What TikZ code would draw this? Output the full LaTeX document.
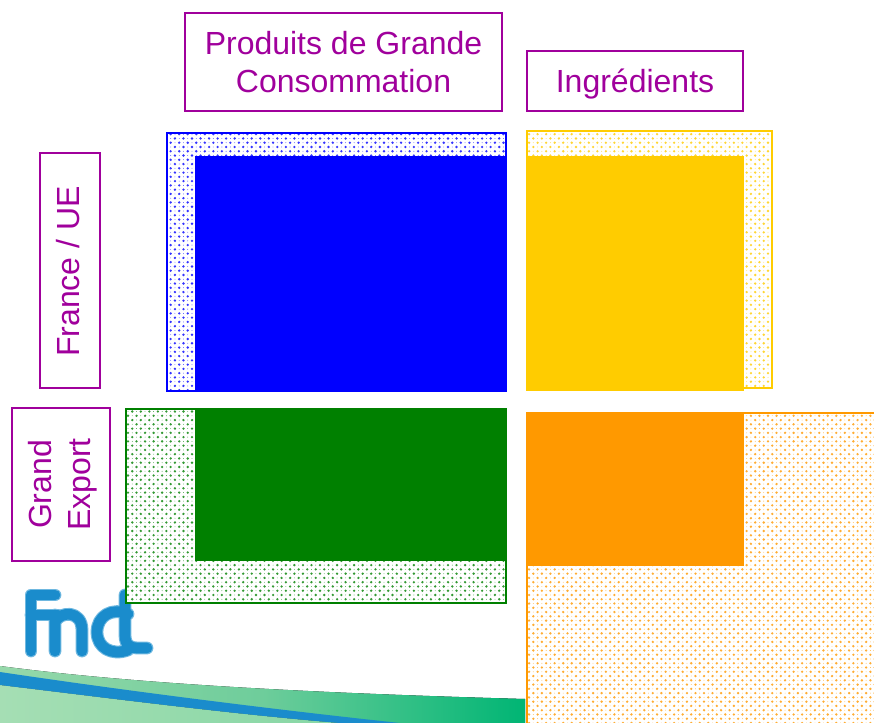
\documentclass[tikz,border=0pt]{standalone}
\usepackage{fontspec}
\setmainfont{Liberation Sans}
\usetikzlibrary{patterns,shadings}
\pgfdeclarepatternformonly{sdots}{\pgfqpoint{-1.2pt}{-1.2pt}}{\pgfqpoint{5.2pt}{5.2pt}}{\pgfqpoint{6.4pt}{6.4pt}}{%
  \pgfpathcircle{\pgfqpoint{0pt}{0pt}}{0.98pt}
  \pgfpathcircle{\pgfqpoint{3.2pt}{3.2pt}}{0.98pt}
  \pgfpathcircle{\pgfqpoint{3.2pt}{0pt}}{0.3pt}
  \pgfpathcircle{\pgfqpoint{0pt}{3.2pt}}{0.3pt}
  \pgfusepath{fill}}
\definecolor{lab}{HTML}{A0009C}
\definecolor{cblue}{HTML}{0000FF}
\definecolor{cyel}{HTML}{FFCC00}
\definecolor{cgrn}{HTML}{008000}
\definecolor{corg}{HTML}{FF9900}
\definecolor{logo}{HTML}{1A8CCC}
\definecolor{logohi}{HTML}{6FB8E0}
\tikzset{
  labelbox/.style={draw=lab,line width=1.5pt,text=lab,align=center,font=\fontsize{24}{29}\selectfont,inner sep=0pt,anchor=center},
  hatch/.style={fill=white,postaction={pattern=sdots,pattern color=#1!80!white}},
  hatchedge/.style={draw=#1,line width=1.5pt},
  logoout/.style={draw=logohi,line width=9.6pt,line cap=round,line join=round},
  logostroke/.style={draw=logo,line width=8pt,line cap=round,line join=round}
}
\begin{document}
\begin{tikzpicture}[x=0.75pt,y=-0.75pt]
\useasboundingbox (0,0) rectangle (874,723);
% swoosh
\fill[left color={rgb,255:red,150;green,216;blue,170}, right color={rgb,255:red,0;green,181;blue,116}, middle color={rgb,255:red,110;green,205;blue,155}]
  (0,666) .. controls (150,686) and (350,694) .. (525,699) -- (525,723) -- (0,723) -- cycle;
\fill[left color={rgb,255:red,165;green,222;blue,180}, right color={rgb,255:red,135;green,215;blue,165}]
  (0,685) .. controls (100,697) and (230,714) .. (340,723) -- (0,723) -- cycle;
\fill[logo] (0,672) .. controls (100,687) and (250,707) .. (400,723) -- (340,723) .. controls (230,714) and (100,697) .. (0,685) -- cycle;
% logo
\foreach \st in {logoout,logostroke}{
\draw[\st] (55,595) -- (31,595) -- (31,651) (31,615) -- (58,615);
\draw[\st] (55,651) -- (55,615) (55,622) .. controls (60,611) and (82,610) .. (82,630) -- (82,651);
\draw[\st] (128,614) .. controls (112,607) and (97,616) .. (97,632) .. controls (97,648) and (112,656) .. (128,650);
\draw[\st] (125,595) -- (125,635) .. controls (125,645) and (130,648) .. (137,648) -- (147,648);
}
% hatched
\path[hatch=cblue] (166.5,133.5) rectangle (506,390.5);
\draw[hatchedge=cblue] (166.5,133.5) rectangle (506,390.5);
\fill[cblue] (195,156) rectangle (506,391);
\path[hatch=cyel] (526.5,131.5) rectangle (772,388);
\draw[hatchedge=cyel] (526.5,131.5) rectangle (772,388);
\fill[cyel] (526,156) rectangle (744,391);
\path[hatch=cgrn] (125.5,408.5) rectangle (505.5,603);
\draw[hatchedge=cgrn] (125.5,408.5) rectangle (505.5,603);
\fill[cgrn] (195,408) rectangle (506,561);
\path[hatch=corg] (526.5,413) rectangle (880,730);
\draw[hatchedge=corg] (526.5,413) rectangle (880,730);
\fill[corg] (526,412) rectangle (744,566);
% labels
\node[labelbox,minimum width=238pt,minimum height=73pt] (pgc) at (343.5,62) {Produits de Grande\\Consommation};
\node[labelbox,minimum width=162.5pt,minimum height=44.5pt] (ing) at (635,81) {\raisebox{-2.2pt}[\height][\depth]{Ingrédients}};
\node[labelbox,rotate=90,minimum width=175.5pt,minimum height=44.5pt] (fr) at (70,270.5) {\raisebox{1.5pt}[\height][\depth]{France / UE}\hspace{1.5pt}};
\node[labelbox,rotate=90,minimum width=114.5pt,minimum height=73.5pt] (ge) at (60.5,484.5) {\raisebox{-2.2pt}[\height][\depth]{\begin{tabular}{@{}c@{}}Grand\\Export\end{tabular}}};
\end{tikzpicture}
\end{document}
